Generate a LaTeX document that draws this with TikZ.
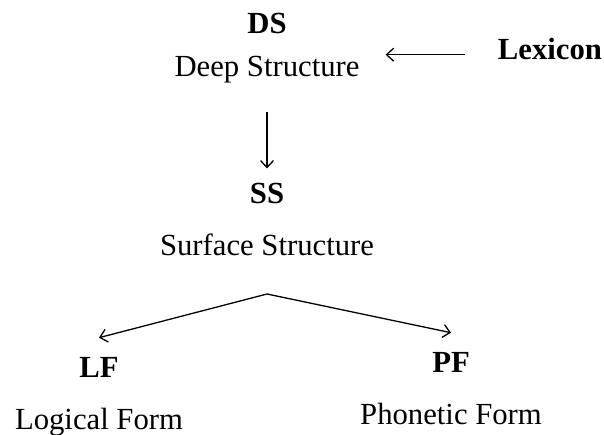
\documentclass[tikz,border=0pt]{standalone}
\usepackage{fontspec}
\setmainfont{Liberation Serif}
\usepackage{tikz}
\usetikzlibrary{arrows.meta,positioning}

\begin{document}
\begin{tikzpicture}[
  x=1pt, y=-1pt,
  every node/.style={inner sep=0pt, anchor=base, font=\fontsize{30.7}{36}\selectfont},
  lvl/.style={font=\fontsize{30.7}{36}\selectfont\bfseries},
  arr/.style={-{Straight Barb[length=7pt,width=13pt]}, line width=1.3pt}
]
\useasboundingbox (0,0) rectangle (604,435);

% levels of the derivation
\node[lvl] (ds) at (267,34) {DS};
\node[below=43pt of ds.base, anchor=base] (dsname) {Deep Structure};
\node[lvl] (lex) at (550,60) {Lexicon};

\node[lvl] (ss) at (267,204) {SS};
\node[below=52pt of ss.base, anchor=base] (ssname) {Surface Structure};

\node[lvl] (lf) at (99,377) {LF};
\node[below=52pt of lf.base, anchor=base] (lfname) {Logical Form};
\node[lvl] (pf) at (451,372) {PF};
\node[below=52pt of pf.base, anchor=base] (pfname) {Phonetic Form};

\coordinate (fork) at ([yshift=-38pt]ssname.base);

% arrows
\draw[arr, shorten <=33pt, shorten >=26pt] ([yshift=3pt]lex.mid west) -- ([yshift=3pt]dsname.east |- lex.mid west);
\draw[arr] ([yshift=-28pt]dsname.south -| ss.south) -- ([yshift=15pt]ss.north);
\draw[arr] (fork) -- ([yshift=19pt]lf.north);
\draw[arr] (fork) -- ([yshift=19pt]pf.north);
\end{tikzpicture}
\end{document}
